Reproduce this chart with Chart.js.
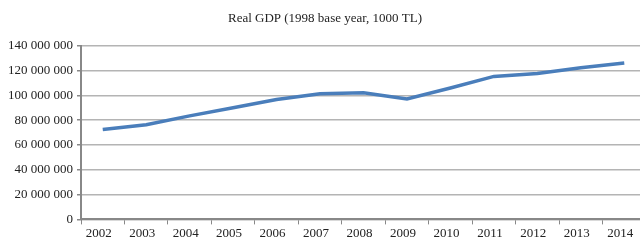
<!DOCTYPE html>
<html>
<head>
    <title>Real GDP</title>
    <style>
        html, body { margin: 0; padding: 0; overflow: hidden; background: #fff; }
        #wrap { width: 648px; height: 242px; }
    </style>
    <script src="https://cdn.jsdelivr.net/npm/chart.js"></script>
</head>
<body>
    <div id="wrap"><canvas id="gdpChart" width="648" height="242"></canvas></div>

    <script>
        // Real GDP, 1998 base year, 1000 TL
        const years = ['2002', '2003', '2004', '2005', '2006', '2007', '2008',
                       '2009', '2010', '2011', '2012', '2013', '2014'];
        const gdp = [72500000, 76300000, 83400000, 90000000, 96500000, 101300000, 102000000,
                     97000000, 105900000, 115200000, 117600000, 122200000, 126000000];
        const yMax = 140000000;
        const yStep = 20000000;

        const serif = '"Liberation Serif", "DejaVu Serif", serif';

        // 140000000 -> "140 000 000"
        function spaced(v) {
            return String(v).replace(/\B(?=(\d{3})+(?!\d))/g, ' ');
        }

        const ctx = document.getElementById('gdpChart').getContext('2d');
        new Chart(ctx, {
            type: 'line',
            data: {
                labels: years,
                datasets: [{
                    data: gdp,
                    borderColor: '#4a7ebb',
                    borderWidth: 3.5,
                    pointRadius: 0,
                    tension: 0,
                    fill: false
                }]
            },
            options: {
                responsive: false,
                animation: false,
                layout: { padding: { left: 4, right: 2, top: 11, bottom: 0 } },
                plugins: {
                    legend: { display: false },
                    tooltip: { enabled: false },
                    title: {
                        display: true,
                        text: 'Real GDP (1998 base year, 1000 TL)',
                        color: '#222',
                        font: { family: serif, size: 13, weight: 'normal' },
                        padding: { top: 0, bottom: 19 }
                    }
                },
                scales: {
                    x: {
                        offset: true,
                        grid: {
                            offset: true,
                            drawOnChartArea: false,
                            drawTicks: true,
                            tickLength: 5,
                            color: '#888'
                        },
                        border: { color: '#888', width: 2 },
                        ticks: {
                            color: '#222',
                            font: { family: serif, size: 13 },
                            padding: 1,
                            labelOffset: -4,
                            maxRotation: 0,
                            autoSkip: false
                        }
                    },
                    y: {
                        min: 0,
                        max: yMax,
                        afterFit: (scale) => { scale.width = 77; },
                        grid: {
                            color: '#b4b4b4',
                            lineWidth: 1.5,
                            tickLength: 4,
                            tickColor: '#888'
                        },
                        border: { color: '#888', width: 2 },
                        ticks: {
                            stepSize: yStep,
                            color: '#222',
                            font: { family: serif, size: 13 },
                            padding: 4,
                            callback: (v) => spaced(v)
                        }
                    }
                }
            }
        });
    </script>
</body>
</html>
